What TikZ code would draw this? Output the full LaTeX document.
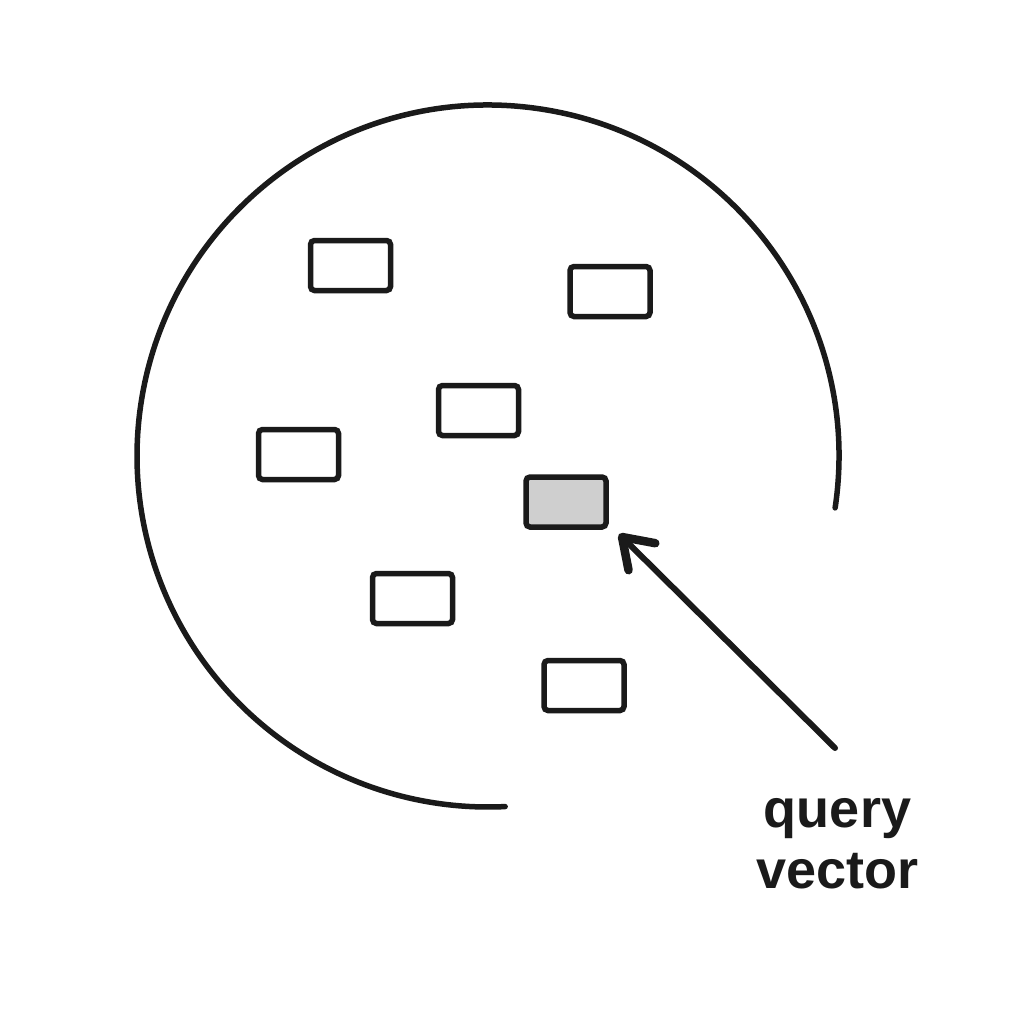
\documentclass[tikz,border=0pt]{standalone}
\usepackage{fontspec}
\setmainfont{Liberation Sans}
\usetikzlibrary{arrows.meta}
\definecolor{ink}{HTML}{1A1A1A}
\definecolor{qfill}{HTML}{CFCFCF}
\tikzset{
  vecbox/.style={draw=ink, line width=5.5pt, rounded corners=4pt, minimum width=80pt, minimum height=50pt, inner sep=0pt, fill=white},
  qbox/.style={vecbox, fill=qfill},
  ring/.style={draw=ink, line width=5.5pt, line cap=round},
  pointer/.style={draw=ink, line width=6pt, line cap=round, -{Straight Barb[length=28pt,width=38pt,round,line width=8.5pt]}},
  lbl/.style={font=\fontsize{54}{61}\selectfont\bfseries, text=ink, align=center, inner sep=0pt}
}
\begin{document}
\begin{tikzpicture}[x=1pt,y=1pt]
\useasboundingbox[fill=white] (0,0) rectangle (1024,-1024);
% space arc
\draw[ring] (488,-456) ++(-8.5:351) arc[start angle=-8.5, end angle=272.8, radius=351pt];
% vectors
\node[vecbox] (v1) at (350.5,-265.5) {};
\node[vecbox] (v2) at (610,-291.5) {};
\node[vecbox] (v3) at (478.5,-410.5) {};
\node[vecbox] (v4) at (298.5,-454.5) {};
\node[qbox]   (vq) at (566,-502) {};
\node[vecbox] (v6) at (412.5,-598.5) {};
\node[vecbox] (v7) at (584,-685.5) {};
% label and pointer
\node[lbl, anchor=base] (ql) at (837.5,-888) {query\\vector};
\coordinate (qs) at (835,-748);
\coordinate (qt) at (619,-534);
\draw[pointer] (qs) -- (qt);
\end{tikzpicture}
\end{document}
